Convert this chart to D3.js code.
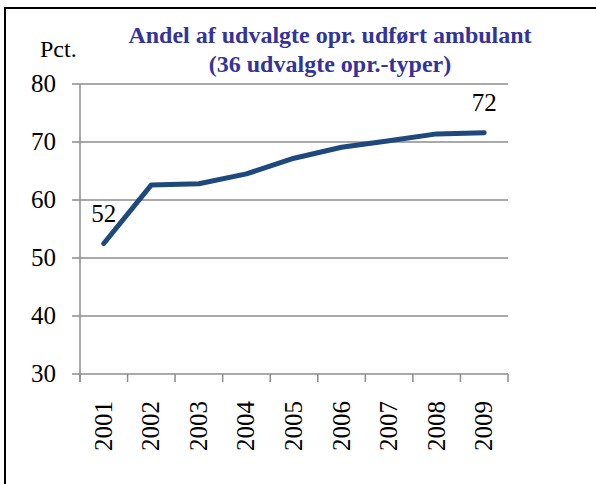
<!DOCTYPE html>
<html>
<head>
<meta charset="utf-8">
<script src="https://cdn.jsdelivr.net/npm/d3@7"></script>
<style>
  text { font-family: 'Liberation Serif', Tinos, 'Times New Roman', serif !important; }
</style>
</head>
<body style="margin:0">
<script>
var years = ['2001', '2002', '2003', '2004', '2005', '2006', '2007', '2008', '2009'];
var shares = [52.5, 62.6, 62.8, 64.5, 67.2, 69.1, 70.2, 71.4, 71.6];
var yTicks = [30, 40, 50, 60, 70, 80];
var titleLines = ['Andel af udvalgte opr. udf\u00f8rt ambulant', '(36 udvalgte opr.-typer)'];
var labelled = { '2001': '52', '2009': '72' };

var W = 596, H = 484;
var serif = "'Liberation Serif', Tinos, 'Times New Roman', serif";
var svg = d3.select('body').append('svg').attr('width', W).attr('height', H)
   .style('display', 'block');

// frame of the original figure
svg.append('line').attr('x1', 4).attr('x2', W).attr('y1', 8).attr('y2', 8)
   .attr('stroke', '#000').attr('stroke-width', 2);
svg.append('line').attr('x1', 5).attr('x2', 5).attr('y1', 7).attr('y2', H)
   .attr('stroke', '#000').attr('stroke-width', 2);

var x = d3.scaleBand().domain(years).range([80, 508]);
var y = d3.scaleLinear().domain([30, 80]).range([374, 84]);

// gridlines
svg.append('g').selectAll('line').data(yTicks).enter().append('line')
   .attr('x1', 72).attr('x2', 508)
   .attr('y1', function(d){ return y(d); }).attr('y2', function(d){ return y(d); })
   .attr('stroke', '#8c8c8c').attr('stroke-width', 1.5);

// y axis line
svg.append('line').attr('x1', 80).attr('x2', 80).attr('y1', y(80)).attr('y2', 382)
   .attr('stroke', '#8c8c8c').attr('stroke-width', 1.5);

// x ticks
svg.append('g').selectAll('line').data(years.concat(['end'])).enter().append('line')
   .attr('x1', function(d, i){ return 80 + i * x.bandwidth(); })
   .attr('x2', function(d, i){ return 80 + i * x.bandwidth(); })
   .attr('y1', 374).attr('y2', 382)
   .attr('stroke', '#8c8c8c').attr('stroke-width', 1.5);

// y labels
svg.append('g').selectAll('text').data(yTicks).enter().append('text')
   .attr('x', 56).attr('y', function(d){ return y(d) + 8; })
   .attr('text-anchor', 'end').attr('font-size', 25).style('font-family', function(){ return serif; })
   .attr('fill', '#000')
   .text(function(d){ return d; });

// x labels, rotated
svg.append('g').selectAll('text').data(years).enter().append('text')
   .attr('transform', function(d){ return 'translate(' + (x(d) + x.bandwidth() / 2 + 8) + ',451) rotate(-90)'; })
   .attr('text-anchor', 'start').attr('font-size', 25).style('font-family', function(){ return serif; })
   .attr('fill', '#000')
   .text(function(d){ return d; });

// the line
var line = d3.line()
   .x(function(d, i){ return x(years[i]) + x.bandwidth() / 2; })
   .y(function(d){ return y(d); });
svg.append('path').datum(shares).attr('d', line)
   .attr('fill', 'none').attr('stroke', '#1f487c').attr('stroke-width', 5)
   .attr('stroke-linecap', 'round').attr('stroke-linejoin', 'round');

// data labels
svg.append('g').selectAll('text').data(years.filter(function(d){ return labelled[d]; })).enter().append('text')
   .attr('x', function(d){ return x(d) + x.bandwidth() / 2; })
   .attr('y', function(d){ return y(shares[years.indexOf(d)]) - 22; })
   .attr('text-anchor', 'middle').attr('font-size', 25).style('font-family', function(){ return serif; })
   .attr('fill', '#000')
   .text(function(d){ return labelled[d]; });

// title and unit
svg.append('g').selectAll('text').data(titleLines).enter().append('text')
   .attr('x', 330).attr('y', function(d, i){ return 43 + i * 29; })
   .attr('text-anchor', 'middle').attr('font-size', 24).attr('font-weight', 'bold')
   .style('font-family', function(){ return serif; }).attr('fill', '#33339c')
   .text(function(d){ return d; });
svg.append('text').attr('x', 40).attr('y', 57).attr('font-size', 24)
   .style('font-family', function(){ return serif; }).attr('fill', '#000').text('Pct.');
</script>
</body>
</html>
